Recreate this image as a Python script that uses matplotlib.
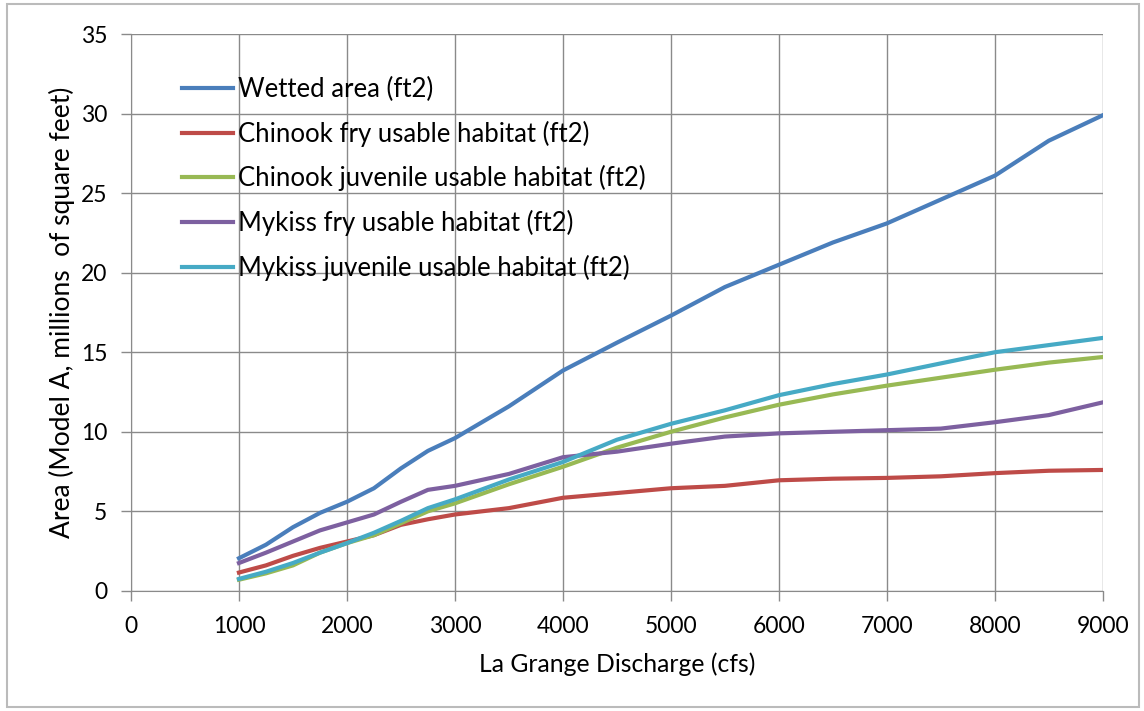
import matplotlib.pyplot as plt
from matplotlib.patches import Rectangle

plt.rcParams['font.family'] = ['Lato', 'DejaVu Sans']

# La Grange discharge (cfs)
discharge = [1000, 1250, 1500, 1750, 2000, 2250, 2500, 2750, 3000, 3500, 4000,
             4500, 5000, 5500, 6000, 6500, 7000, 7500, 8000, 8500, 9000]

# areas in millions of ft2
wetted = [2.05, 2.9, 4.0, 4.9, 5.6, 6.45, 7.7, 8.8, 9.6, 11.6, 13.85,
          15.6, 17.3, 19.1, 20.5, 21.9, 23.1, 24.6, 26.1, 28.3, 29.9]
chinook_fry = [1.15, 1.6, 2.2, 2.7, 3.1, 3.5, 4.15, 4.5, 4.8, 5.2, 5.85,
               6.15, 6.45, 6.6, 6.95, 7.05, 7.1, 7.2, 7.4, 7.55, 7.6]
chinook_juv = [0.7, 1.1, 1.6, 2.4, 3.0, 3.5, 4.25, 5.0, 5.5, 6.7, 7.8,
               9.0, 10.0, 10.9, 11.7, 12.35, 12.9, 13.4, 13.9, 14.35, 14.7]
mykiss_fry = [1.75, 2.4, 3.1, 3.8, 4.3, 4.8, 5.6, 6.35, 6.6, 7.35, 8.4,
              8.75, 9.25, 9.7, 9.9, 10.0, 10.1, 10.2, 10.6, 11.05, 11.85]
mykiss_juv = [0.75, 1.2, 1.75, 2.4, 3.0, 3.65, 4.4, 5.2, 5.75, 7.0, 8.1,
              9.5, 10.5, 11.35, 12.3, 13.0, 13.6, 14.3, 15.0, 15.45, 15.9]

series = [
    ('Wetted area (ft2)', wetted, '#4A7EBB'),
    ('Chinook fry usable habitat (ft2)', chinook_fry, '#BE4B48'),
    ('Chinook juvenile usable habitat (ft2)', chinook_juv, '#98B954'),
    ('Mykiss fry usable habitat (ft2)', mykiss_fry, '#7D60A0'),
    ('Mykiss juvenile usable habitat (ft2)', mykiss_juv, '#46AAC5'),
]

fig = plt.figure(figsize=(11.44, 7.11), dpi=100)
ax = fig.add_axes([0.1145, 0.169, 0.8495, 0.783])

for label, vals, color in series:
    ax.plot(discharge, vals, color=color, linewidth=3, label=label)

ax.set_xlim(0, 9000)
ax.set_ylim(0, 35)
ax.set_xticks(range(0, 9001, 1000))
ax.set_yticks(range(0, 36, 5))
ax.grid(True, color='#8a8a8a', linewidth=1)
ax.set_axisbelow(True)
for side in ['top', 'right']:
    ax.spines[side].set_visible(False)
for side in ['left', 'bottom']:
    ax.spines[side].set_color('#8a8a8a')
ax.tick_params(axis='both', colors='#8a8a8a', labelcolor='black',
               labelsize=16.5, length=7, width=1)
ax.tick_params(axis='x', pad=11)
ax.tick_params(axis='y', pad=10)

ax.set_xlabel('La Grange Discharge (cfs)', fontsize=17.8, labelpad=11)
ax.set_ylabel('Area (Model A, millions  of square feet)', fontsize=19, labelpad=4)

ax.legend(loc='upper left', bbox_to_anchor=(0.0525, 0.923), frameon=False,
          fontsize=18.5, handlelength=2.0, handletextpad=0.16, labelspacing=0.72,
          borderpad=0, borderaxespad=0)

fig.patches.append(Rectangle((0.006, 0.006), 0.99, 0.988, transform=fig.transFigure,
                             fill=False, edgecolor='#bbbbbb', linewidth=1.5))

fig.savefig('out.png', dpi=100)
